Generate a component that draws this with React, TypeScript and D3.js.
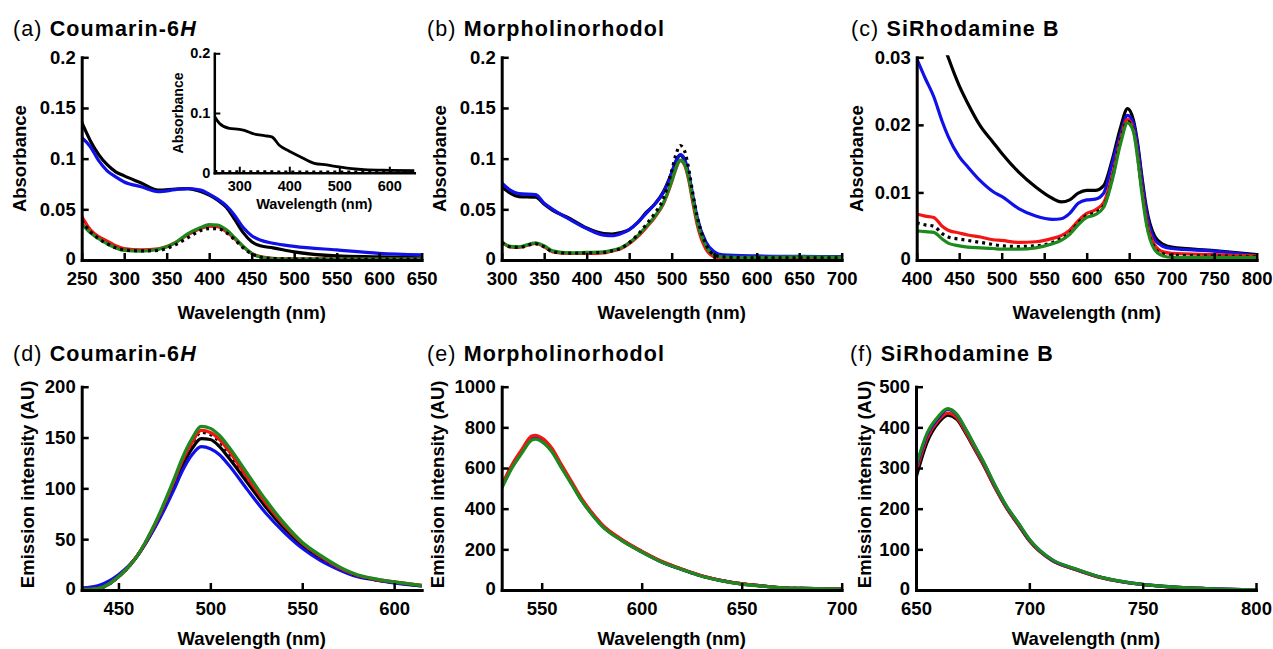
import React, { useEffect, useRef } from "react";
import * as d3 from "d3";

// ---------- DATA ----------
// (a) Coumarin-6H absorbance
const wlA = [250, 260, 270, 280, 290, 300, 320, 340, 360, 375, 390, 400, 410, 420, 430, 440, 450, 460, 475, 500, 550, 600, 650];
const aBlack = [0.136, 0.118, 0.104, 0.094, 0.087, 0.083, 0.076, 0.069, 0.070, 0.0705, 0.0675, 0.064, 0.059, 0.052, 0.040, 0.027, 0.018, 0.014, 0.012, 0.008, 0.004, 0.003, 0.002];
const aBlue = [0.121, 0.112, 0.098, 0.088, 0.082, 0.077, 0.0723, 0.0674, 0.0694, 0.0705, 0.069, 0.065, 0.060, 0.0536, 0.044, 0.032, 0.024, 0.0197, 0.0165, 0.0135, 0.0099, 0.0066, 0.005];
const aRed = [0.043, 0.030, 0.023, 0.0187, 0.014, 0.0112, 0.0099, 0.011, 0.017, 0.025, 0.031, 0.0335, 0.033, 0.028, 0.021, 0.0131, 0.0066, 0.0033, 0.0016, 0.0012, 0.001, 0.001, 0.001];
const aGreen = [0.036, 0.027, 0.021, 0.016, 0.012, 0.0095, 0.0088, 0.0105, 0.017, 0.026, 0.032, 0.035, 0.0345, 0.030, 0.022, 0.0135, 0.0065, 0.003, 0.0015, 0.001, 0.001, 0.001, 0.001];
const aDotted = [0.039, 0.028, 0.021, 0.016, 0.012, 0.010, 0.009, 0.0095, 0.015, 0.022, 0.029, 0.031, 0.031, 0.027, 0.020, 0.012, 0.006, 0.003, 0.0015, 0.001, 0.001, 0.001, 0.001];

// (a) inset
const wlInset = [250, 260, 280, 300, 310, 330, 350, 365, 380, 400, 420, 450, 475, 500, 525, 550, 600, 650];
const insetBlack = [0.095, 0.083, 0.0744, 0.0727, 0.071, 0.0648, 0.062, 0.060, 0.046, 0.036, 0.0275, 0.0157, 0.013, 0.0096, 0.0067, 0.005, 0.004, 0.0035];
const insetDotted = [0.002, 0.002, 0.0018, 0.0017, 0.0017, 0.0016, 0.0016, 0.0016, 0.0015, 0.0015, 0.0015, 0.0014, 0.0014, 0.0013, 0.0013, 0.0013, 0.0012, 0.0012];

// (b) Morpholinorhodol absorbance
const wlB = [300, 310, 320, 340, 350, 360, 380, 400, 420, 430, 440, 450, 460, 470, 480, 490, 500, 505, 510, 515, 520, 525, 530, 540, 550, 560, 600, 650, 700];
const bBlack = [0.0723, 0.066, 0.0626, 0.062, 0.055, 0.049, 0.041, 0.0315, 0.026, 0.0255, 0.027, 0.030, 0.037, 0.047, 0.055, 0.067, 0.086, 0.097, 0.1035, 0.098, 0.082, 0.059, 0.040, 0.017, 0.0066, 0.004, 0.0033, 0.003, 0.003];
const bBlue = [0.076, 0.069, 0.0655, 0.0645, 0.056, 0.050, 0.040, 0.031, 0.0245, 0.024, 0.026, 0.030, 0.037, 0.046, 0.055, 0.066, 0.086, 0.098, 0.104, 0.100, 0.085, 0.063, 0.042, 0.018, 0.008, 0.005, 0.004, 0.0035, 0.003];
const bRed = [0.018, 0.013, 0.0125, 0.0165, 0.013, 0.008, 0.0065, 0.0065, 0.007, 0.009, 0.011, 0.016, 0.023, 0.032, 0.042, 0.055, 0.077, 0.090, 0.098, 0.094, 0.079, 0.056, 0.035, 0.011, 0.003, 0.001, 0.001, 0.001, 0.001];
const bGreen = [0.018, 0.0135, 0.013, 0.017, 0.014, 0.009, 0.007, 0.0075, 0.008, 0.0095, 0.012, 0.017, 0.024, 0.033, 0.043, 0.056, 0.078, 0.091, 0.0985, 0.095, 0.081, 0.059, 0.038, 0.014, 0.005, 0.003, 0.0025, 0.003, 0.0025];
const bDotted = [0.017, 0.013, 0.0125, 0.016, 0.013, 0.008, 0.0068, 0.007, 0.0075, 0.009, 0.0115, 0.017, 0.025, 0.035, 0.046, 0.060, 0.088, 0.104, 0.113, 0.108, 0.090, 0.065, 0.043, 0.016, 0.005, 0.003, 0.002, 0.002, 0.002];

// (c) SiRhodamine B absorbance
const wlC = [400, 410, 420, 430, 437, 450, 460, 475, 490, 500, 520, 540, 560, 570, 580, 590, 600, 610, 620, 630, 640, 648, 655, 660, 665, 670, 680, 690, 700, 750, 800];
const cBlack = [0.046, 0.041, 0.0365, 0.0325, 0.030, 0.0258, 0.0232, 0.0198, 0.0174, 0.0158, 0.013, 0.0108, 0.0091, 0.0086, 0.0089, 0.0099, 0.0103, 0.0103, 0.011, 0.0148, 0.0197, 0.0224, 0.0207, 0.0172, 0.0123, 0.0079, 0.0035, 0.0023, 0.0019, 0.0014, 0.0008];
const cBlue = [0.0298, 0.0269, 0.0242, 0.0205, 0.0183, 0.0153, 0.0138, 0.0117, 0.0101, 0.0094, 0.0076, 0.0065, 0.006, 0.0061, 0.0069, 0.0084, 0.0089, 0.009, 0.0099, 0.0143, 0.0187, 0.0214, 0.0202, 0.0168, 0.0118, 0.0074, 0.003, 0.002, 0.0017, 0.0013, 0.0006];
const cRed = [0.0068, 0.0065, 0.0063, 0.0050, 0.0044, 0.004, 0.0037, 0.0034, 0.003, 0.0029, 0.0026, 0.0027, 0.0032, 0.0036, 0.0044, 0.0058, 0.0069, 0.0074, 0.0085, 0.0125, 0.018, 0.0208, 0.0193, 0.0155, 0.0105, 0.0062, 0.0022, 0.0012, 0.001, 0.0008, 0.0006];
const cGreen = [0.0043, 0.0042, 0.0041, 0.0031, 0.0025, 0.0021, 0.0019, 0.0018, 0.0017, 0.0016, 0.0016, 0.0018, 0.0024, 0.0029, 0.0038, 0.0052, 0.0063, 0.0067, 0.0078, 0.0118, 0.0173, 0.0203, 0.019, 0.015, 0.0098, 0.0055, 0.0015, 0.0006, 0.0004, 0.0004, 0.0004];
const cDotted = [0.0055, 0.0052, 0.005, 0.0039, 0.0034, 0.0031, 0.0029, 0.0026, 0.0023, 0.0021, 0.002, 0.0021, 0.0026, 0.0032, 0.004, 0.0055, 0.0066, 0.007, 0.008, 0.012, 0.0178, 0.0205, 0.0192, 0.0152, 0.0102, 0.0058, 0.0018, 0.0009, 0.0007, 0.0006, 0.0005];

// (d) Coumarin-6H emission
const wlD = [430, 440, 450, 460, 470, 480, 485, 490, 495, 500, 505, 510, 520, 530, 540, 550, 560, 570, 580, 590, 600, 615];
const dBlack = [0.5, 2, 13, 33, 63, 102, 123, 139, 149, 148, 141, 130, 106, 82, 61, 44, 31, 21, 14, 10, 7.5, 4];
const dBlue = [2, 5, 15, 33, 62, 98, 118, 133, 141, 139, 133, 123, 99, 76, 57, 41, 29, 20, 13, 10, 7, 4];
const dRed = [0.5, 2, 13, 33, 65, 106, 128, 145, 157, 155, 148, 137, 111, 86, 64, 46, 33, 22, 14.5, 10.5, 8, 4.5];
const dGreen = [0.5, 2, 13, 33, 66, 108, 131, 149, 161, 159, 152, 141, 115, 89, 66, 47, 34, 23, 15, 11, 8, 4.5];
const dDotted = [0.5, 2, 13, 33, 65, 105, 127, 144, 155, 153, 146, 135, 110, 85, 63, 45, 32, 22, 14, 10, 7.5, 4];

// (e) Morpholinorhodol emission
const wlE = [530, 535, 540, 545, 547, 550, 555, 560, 565, 570, 575, 580, 590, 600, 610, 620, 630, 640, 650, 660, 670, 680, 700];
const eBlack = [508, 606, 680, 746, 750, 738, 689, 606, 525, 443, 377, 320, 246, 189, 139, 102, 69, 46, 30, 20, 11, 8, 4];
const eBlue = [505, 603, 677, 743, 748, 735, 686, 603, 523, 441, 375, 318, 245, 188, 138, 101, 69, 46, 30, 20, 11, 8, 4];
const eRed = [515, 614, 690, 757, 761, 749, 699, 614, 532, 449, 382, 324, 249, 191, 141, 103, 70, 47, 31, 20, 11, 8, 4];
const eGreen = [500, 598, 672, 737, 742, 730, 681, 599, 519, 438, 373, 316, 243, 187, 137, 101, 68, 45, 29, 19, 11, 8, 4];
const eDotted = [508, 606, 680, 746, 750, 738, 689, 606, 525, 443, 377, 320, 246, 189, 139, 102, 69, 46, 30, 20, 11, 8, 4];

// (f) SiRhodamine B emission
const wlF = [650, 655, 660, 664, 668, 672, 676, 680, 685, 690, 695, 700, 710, 720, 730, 740, 750, 760, 770, 780, 800];
const fBlack = [276, 365, 412, 430, 420, 385, 345, 305, 250, 201, 161, 121, 73, 51, 33, 21, 13.5, 8.5, 5, 3, 1];
const fRed = [290, 375, 418, 435, 424, 388, 347, 307, 251, 202, 162, 122, 73, 51, 33, 21, 13.5, 8.5, 5, 3, 1];
const fBlue = [300, 383, 424, 444, 431, 394, 353, 312, 255, 205, 165, 124, 74, 52, 34, 22, 14, 9, 5, 3, 1];
const fGreen = [305, 387, 428, 446, 432, 395, 354, 313, 256, 206, 166, 125, 75, 52.6, 34, 22, 14, 9, 5, 3, 1];

// Tick values
const ticksXA = [250, 300, 350, 400, 450, 500, 550, 600, 650];
const ticksXB = [300, 350, 400, 450, 500, 550, 600, 650, 700];
const ticksXC = [400, 450, 500, 550, 600, 650, 700, 750, 800];
const ticksYAbs = [0, 0.05, 0.1, 0.15, 0.2];
const ticksYC = [0, 0.01, 0.02, 0.03];
const ticksXInset = [300, 400, 500, 600];
const ticksYInset = [0, 0.1, 0.2];
const ticksXD = [450, 500, 550, 600];
const ticksXE = [550, 600, 650, 700];
const ticksXF = [650, 700, 750, 800];
const ticksYD = [0, 50, 100, 150, 200];
const ticksYE = [0, 200, 400, 600, 800, 1000];
const ticksYF = [0, 100, 200, 300, 400, 500];

// ---------- STYLE ----------
const FONT = '"Liberation Sans", Arial, Helvetica, sans-serif';
const BLACK = "#000000";
const BLUE = "#1010e8";
const RED = "#f41414";
const GREEN = "#1e8a1e";

type Series = { wl: number[]; v: number[]; color: string; dotted?: boolean };

export default function App() {
  const ref = useRef<SVGSVGElement | null>(null);

  useEffect(() => {
    const svg = d3.select(ref.current);
    svg.selectAll("*").remove();

    const fmt = (d: any) => (d === 0 ? "0" : String(d));

    function panel(opts: {
      id: string;
      left: number; top: number; bottom: number; width: number;
      xDomain: [number, number]; yDomain: [number, number];
      xTicks: number[]; yTicks: number[];
      series: Series[];
      fs: number; axisW: number; tickW: number; tickLen: number;
      xPad: number; yPad: number; lineW: number; zeroLift: number;
      xTitle: string; xTitleY: number;
      yTitle: string; yTitleX: number; yTitleFs: number; xTitleFs: number;
    }) {
      const x = d3.scaleLinear().domain(opts.xDomain).range([opts.left, opts.left + opts.width]);
      const y = d3.scaleLinear().domain(opts.yDomain).range([opts.bottom, opts.top]);
      const g = svg.append("g");

      const clipId = "clip-" + opts.id;
      g.append("clipPath").attr("id", clipId).append("rect")
        .attr("x", opts.left).attr("y", opts.top - 2)
        .attr("width", opts.width + 4).attr("height", opts.bottom - opts.top + 2);

      const line = d3.line<[number, number]>()
        .x((d) => x(d[0])).y((d) => y(d[1])).curve(d3.curveMonotoneX);

      const lg = g.append("g").attr("clip-path", `url(#${clipId})`);
      opts.series.forEach((s) => {
        const pts: [number, number][] = s.wl.map((w, i) => [w, s.v[i]]);
        lg.append("path").attr("d", line(pts) as string)
          .attr("fill", "none").attr("stroke", s.color)
          .attr("stroke-width", opts.lineW)
          .attr("stroke-linejoin", "round")
          .attr("stroke-dasharray", s.dotted ? "3,4" : null);
      });

      const xAxis = d3.axisBottom(x).tickValues(opts.xTicks).tickSize(-opts.tickLen).tickSizeOuter(0).tickPadding(opts.xPad).tickFormat(fmt as any);
      const yAxis = d3.axisLeft(y).tickValues(opts.yTicks).tickSize(-opts.tickLen).tickSizeOuter(0).tickPadding(opts.yPad).tickFormat(fmt as any);

      const gx = g.append("g").attr("transform", `translate(0,${opts.bottom})`).call(xAxis);
      const gy = g.append("g").attr("transform", `translate(${opts.left},0)`).call(yAxis);
      [gx, gy].forEach((ax) => {
        ax.select(".domain").attr("stroke", "#000").attr("stroke-width", opts.axisW).attr("stroke-linecap", "square");
        ax.selectAll(".tick line").attr("stroke", "#000").attr("stroke-width", opts.tickW);
        ax.selectAll(".tick text").attr("fill", "#000").attr("font-family", FONT)
          .attr("font-weight", "bold").attr("font-size", opts.fs);
        ax.attr("font-family", null).attr("font-size", null);
      });
      // lift the "0" y label a touch so it clears the x labels at the corner
      gy.selectAll<SVGTextElement, number>(".tick text")
        .filter((d) => d === 0)
        .attr("y", -opts.zeroLift);

      g.append("text").attr("x", opts.left + opts.width / 2).attr("y", opts.xTitleY)
        .attr("text-anchor", "middle").attr("font-family", FONT).attr("font-weight", "bold")
        .attr("font-size", opts.xTitleFs).text(opts.xTitle);

      const yc = (opts.top + opts.bottom) / 2 + (opts.yTitle.length > 12 ? -4 : 0);
      g.append("text").attr("transform", `translate(${opts.yTitleX},${yc}) rotate(-90)`)
        .attr("dy", "0.35em")
        .attr("text-anchor", "middle").attr("font-family", FONT).attr("font-weight", "bold")
        .attr("font-size", opts.yTitleFs).text(opts.yTitle);
    }

    function title(x0: number, yb: number, letter: string, name: string, italic?: string) {
      const t = svg.append("text").attr("x", x0).attr("y", yb).attr("font-family", FONT)
        .attr("font-size", 21.5).attr("letter-spacing", 1.1);
      t.append("tspan").attr("font-weight", "normal").text(`(${letter}) `);
      t.append("tspan").attr("font-weight", "bold").text(name);
      if (italic) t.append("tspan").attr("font-weight", "bold").attr("font-style", "italic").text(italic);
    }

    const big = {
      fs: 18.5, axisW: 3, tickW: 2.5, tickLen: 7, xPad: 12, yPad: 6, lineW: 3.2, zeroLift: 1.5,
      xTitle: "Wavelength (nm)", yTitleFs: 18.5, xTitleFs: 18.5,
    };
    const topRow = { top: 57.3, bottom: 260, xTitleY: 318.5 };
    const botRow = { top: 386.7, bottom: 590, xTitleY: 645 };

    const S = (wl: number[], v: number[], color: string, dotted?: boolean): Series => ({ wl, v, color, dotted });

    panel({ ...big, ...topRow, id: "a", left: 81.7, width: 340, xDomain: [250, 650], yDomain: [0, 0.2],
      xTicks: ticksXA, yTicks: ticksYAbs, yTitle: "Absorbance", yTitleX: 19.5,
      series: [S(wlA, aBlack, BLACK), S(wlA, aBlue, BLUE), S(wlA, aRed, RED), S(wlA, aGreen, GREEN), S(wlA, aDotted, BLACK, true)] });

    panel({ ...big, id: "inset", left: 214.3, width: 200, top: 53.3, bottom: 172.7,
      xDomain: [250, 650], yDomain: [0, 0.2], xTicks: ticksXInset, yTicks: ticksYInset,
      fs: 14.5, axisW: 2.5, tickW: 2, tickLen: 6, xPad: 8, yPad: 4, lineW: 2.8, zeroLift: 0,
      xTitleY: 208.5, xTitleFs: 14.5, yTitle: "Absorbance", yTitleX: 178, yTitleFs: 14,
      series: [S(wlInset, insetBlack, BLACK), S(wlInset, insetDotted, BLACK, true)] });

    panel({ ...big, ...topRow, id: "b", left: 501.7, width: 340, xDomain: [300, 700], yDomain: [0, 0.2],
      xTicks: ticksXB, yTicks: ticksYAbs, yTitle: "Absorbance", yTitleX: 439.7,
      series: [S(wlB, bBlack, BLACK), S(wlB, bBlue, BLUE), S(wlB, bRed, RED), S(wlB, bGreen, GREEN), S(wlB, bDotted, BLACK, true)] });

    panel({ ...big, ...topRow, id: "c", left: 916.7, width: 340, xDomain: [400, 800], yDomain: [0, 0.03],
      xTicks: ticksXC, yTicks: ticksYC, yTitle: "Absorbance", yTitleX: 857,
      series: [S(wlC, cBlack, BLACK), S(wlC, cBlue, BLUE), S(wlC, cRed, RED), S(wlC, cDotted, BLACK, true), S(wlC, cGreen, GREEN)] });

    panel({ ...big, ...botRow, id: "d", left: 81.7, width: 340, xDomain: [430, 615], yDomain: [0, 200],
      xTicks: ticksXD, yTicks: ticksYD, yTitle: "Emission intensity (AU)", yTitleX: 27.5,
      series: [S(wlD, dBlack, BLACK), S(wlD, dBlue, BLUE), S(wlD, dDotted, BLACK, true), S(wlD, dRed, RED), S(wlD, dGreen, GREEN)] });

    panel({ ...big, ...botRow, id: "e", left: 501.7, width: 340, xDomain: [530, 700], yDomain: [0, 1000],
      xTicks: ticksXE, yTicks: ticksYE, yTitle: "Emission intensity (AU)", yTitleX: 437.7,
      series: [S(wlE, eBlack, BLACK), S(wlE, eDotted, BLACK, true), S(wlE, eBlue, BLUE), S(wlE, eRed, RED), S(wlE, eGreen, GREEN)] });

    panel({ ...big, ...botRow, id: "f", left: 916, width: 340, xDomain: [650, 800], yDomain: [0, 500],
      xTicks: ticksXF, yTicks: ticksYF, yTitle: "Emission intensity (AU)", yTitleX: 865,
      series: [S(wlF, fBlack, BLACK), S(wlF, fRed, RED), S(wlF, fBlue, BLUE), S(wlF, fGreen, GREEN)] });

    title(13, 36, "a", "Coumarin-6", "H");
    title(427, 36, "b", "Morpholinorhodol");
    title(851, 36, "c", "SiRhodamine B");
    title(13, 361, "d", "Coumarin-6", "H");
    title(427, 361, "e", "Morpholinorhodol");
    title(850, 361, "f", "SiRhodamine B");
  }, []);

  return (
    <svg ref={ref} width={1273} height={649}
      style={{ position: "absolute", left: 0, top: 0, background: "#fff" }} />
  );
}
